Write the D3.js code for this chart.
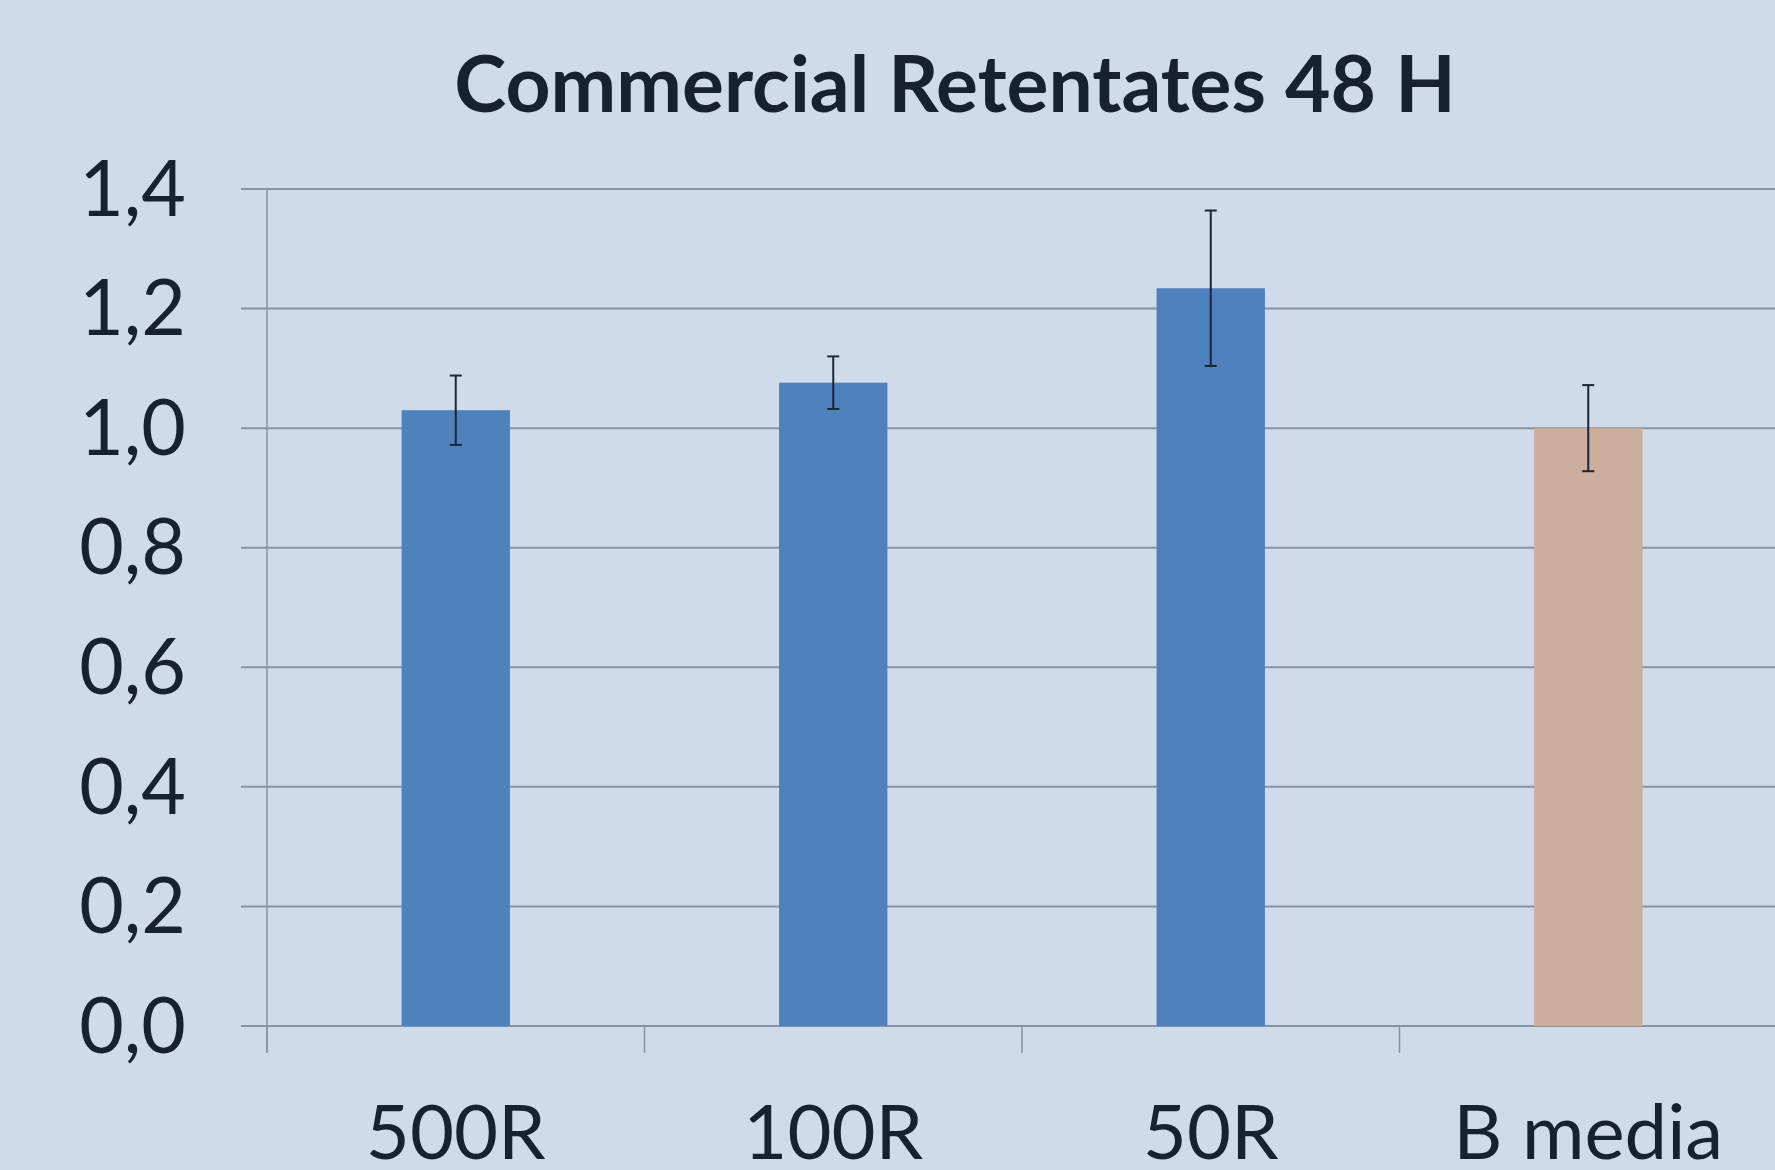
<!DOCTYPE html>
<html>
<head>
<meta charset="utf-8">
<script src="https://cdn.jsdelivr.net/npm/d3@7"></script>
<style>
  body { margin: 0; background: #cfdbeb; }
  svg { display: block; }
  text { font-family: Lato, "Open Sans", sans-serif; fill: #17212f; }
</style>
</head>
<body>
<script>
// chart data
var categories = ["500R", "100R", "50R", "B media"];
var values = [1.03, 1.076, 1.234, 1.0];
var errors = [0.058, 0.044, 0.13, 0.072];
var barColors = ["#4f81bd", "#4f81bd", "#4f81bd", "#cbae9b"];
var yTicks = [0, 0.2, 0.4, 0.6, 0.8, 1.0, 1.2, 1.4];
var title = "Commercial Retentates 48 H";

var fullwidth = 1775;
var fullheight = 1170;
var margin = {top: 189, right: -2, bottom: 144, left: 267};
var width = fullwidth - margin.left - margin.right;
var height = fullheight - margin.top - margin.bottom;

var svg = d3.select("body")
  .append("svg")
   .attr("width", fullwidth)
   .attr("height", fullheight);

svg.append("rect")
  .attr("width", fullwidth)
  .attr("height", fullheight)
  .attr("fill", "#cfdbeb");

var g = svg.append("g")
  .attr("transform", "translate(" + margin.left + "," + margin.top + ")");

// scales
var xscale = d3.scaleBand()
  .domain(categories)
  .range([0, width])
  .paddingInner(0.713)
  .paddingOuter(0.3565);

var yscale = d3.scaleLinear()
  .domain([0, 1.4])
  .range([height, 0]);

var fmt = function(d) { return d3.format(".1f")(d).replace(".", ","); };

// gridlines
g.append("g")
  .selectAll("line")
  .data(yTicks)
  .enter().append("line")
  .attr("x1", -26)
  .attr("x2", width)
  .attr("y1", function(d) { return yscale(d); })
  .attr("y2", function(d) { return yscale(d); })
  .attr("stroke", "#8793a3")
  .attr("stroke-width", 2);

// y axis
var yaxis = g.append("g")
  .call(d3.axisLeft(yscale).tickValues(yTicks).tickFormat(fmt).tickSize(0).tickPadding(81));
yaxis.select(".domain").remove();
yaxis.selectAll("text")
  .attr("font-size", 77)
  .attr("font-family", "Lato, sans-serif")
  .attr("fill", "#17212f")
  .attr("dy", "0.34em");

g.append("line")
  .attr("x1", 0).attr("x2", 0)
  .attr("y1", 0).attr("y2", height + 27)
  .attr("stroke", "#8793a3")
  .attr("stroke-width", 1.5);

// category separators below the axis
var step = xscale.step();
g.append("g")
  .selectAll("line")
  .data(categories)
  .enter().append("line")
  .attr("x1", function(d) { return xscale(d) + xscale.bandwidth() / 2 - step / 2; })
  .attr("x2", function(d) { return xscale(d) + xscale.bandwidth() / 2 - step / 2; })
  .attr("y1", height)
  .attr("y2", height + 27)
  .attr("stroke", "#8793a3")
  .attr("stroke-width", 1.5);

// bars
g.selectAll(".bar")
  .data(values)
  .enter().append("rect")
  .attr("class", "bar")
  .attr("x", function(d, i) { return xscale(categories[i]); })
  .attr("y", function(d) { return yscale(d); })
  .attr("width", xscale.bandwidth())
  .attr("height", function(d) { return height - yscale(d); })
  .attr("fill", function(d, i) { return barColors[i]; });

// error bars
var eb = g.selectAll(".err")
  .data(values)
  .enter().append("g")
  .attr("class", "err")
  .attr("transform", function(d, i) {
    return "translate(" + (xscale(categories[i]) + xscale.bandwidth() / 2) + ",0)";
  });

eb.append("line")
  .attr("y1", function(d, i) { return yscale(d + errors[i]); })
  .attr("y2", function(d, i) { return yscale(d - errors[i]); })
  .attr("stroke", "#1b2636")
  .attr("stroke-width", 2);

eb.append("line")
  .attr("x1", -6).attr("x2", 6)
  .attr("y1", function(d, i) { return yscale(d + errors[i]); })
  .attr("y2", function(d, i) { return yscale(d + errors[i]); })
  .attr("stroke", "#1b2636")
  .attr("stroke-width", 2);

eb.append("line")
  .attr("x1", -6).attr("x2", 6)
  .attr("y1", function(d, i) { return yscale(d - errors[i]); })
  .attr("y2", function(d, i) { return yscale(d - errors[i]); })
  .attr("stroke", "#1b2636")
  .attr("stroke-width", 2);

// x labels
g.append("g")
  .selectAll("text")
  .data(categories)
  .enter().append("text")
  .attr("x", function(d) { return xscale(d) + xscale.bandwidth() / 2; })
  .attr("y", 970)
  .attr("text-anchor", "middle")
  .attr("font-size", 76)
  .text(function(d) { return d; });

// title
svg.append("text")
  .attr("x", 955)
  .attr("y", 112)
  .attr("text-anchor", "middle")
  .attr("font-size", 78.5)
  .attr("font-weight", "bold")
  .text(title);
</script>
</body>
</html>
